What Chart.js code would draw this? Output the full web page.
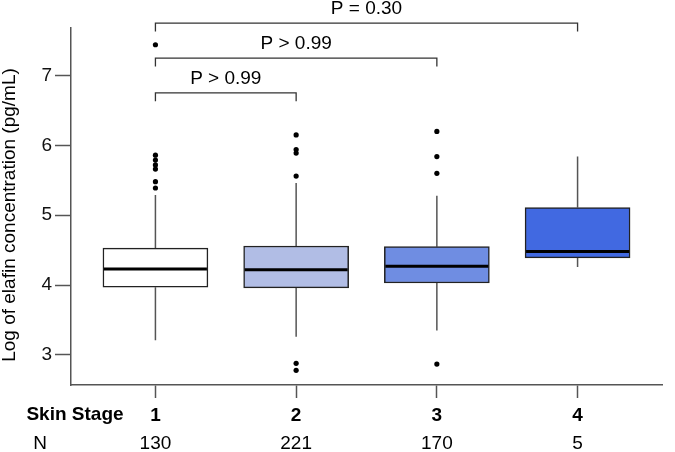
<!DOCTYPE html>
<html>
<head>
<meta charset="utf-8">
<script src="https://cdn.jsdelivr.net/npm/chart.js@4.4.1/dist/chart.umd.min.js"></script>
<style>
  html, body { margin: 0; padding: 0; background: #fff; }
  #wrap { width: 675px; height: 452px; }
</style>
</head>
<body>
<div id="wrap"><canvas id="chart" width="675" height="452"></canvas></div>
<script>
// skin stages and sample sizes
const stages = [1, 2, 3, 4];
const stageCounts = [130, 221, 170, 5];

// box plot summaries (log pg/mL)
const lowerQuartile = [3.97, 3.96, 4.03, 4.39];
const upperQuartile = [4.53, 4.56, 4.55, 5.11];
const medians = [4.23, 4.22, 4.27, 4.48];
const whiskerLow = [3.21, 3.26, 3.35, 4.26];
const whiskerHigh = [5.29, 5.46, 5.28, 5.84];
const outliers = [
  [7.44, 5.86, 5.79, 5.72, 5.66, 5.48, 5.39],
  [6.15, 5.94, 5.89, 5.56, 2.88, 2.78],
  [6.20, 5.84, 5.60, 2.87],
  []
];

const yTicks = [3, 4, 5, 6, 7];

// pairwise comparison brackets
const bracketFrom = [1, 1, 1];
const bracketTo = [4, 3, 2];
const bracketLevel = [7.75, 7.25, 6.75];
const bracketLabels = ['P = 0.30', 'P > 0.99', 'P > 0.99'];

const FONT = '"Liberation Sans", Arial, Helvetica, sans-serif';
const boxFills = ['#FFFFFF', '#B1BDE5', '#6F8DE2', '#4169E1'];

const boxPlotExtras = {
  id: 'boxPlotExtras',
  beforeDatasetsDraw(chart) {
    const { ctx, scales: { x, y } } = chart;
    ctx.save();
    ctx.strokeStyle = '#555';
    ctx.lineWidth = 1.5;
    stages.forEach((s, i) => {
      const px = x.getPixelForValue(s);
      ctx.beginPath();
      ctx.moveTo(px, y.getPixelForValue(upperQuartile[i]));
      ctx.lineTo(px, y.getPixelForValue(whiskerHigh[i]));
      ctx.moveTo(px, y.getPixelForValue(lowerQuartile[i]));
      ctx.lineTo(px, y.getPixelForValue(whiskerLow[i]));
      ctx.stroke();
    });
    ctx.restore();
  },
  afterDatasetsDraw(chart) {
    const { ctx, scales: { x, y } } = chart;
    const half = chart.getDatasetMeta(0).data[0].width / 2;
    ctx.save();
    ctx.strokeStyle = '#000';
    ctx.lineWidth = 3;
    stages.forEach((s, i) => {
      const px = x.getPixelForValue(s);
      const py = y.getPixelForValue(medians[i]);
      ctx.beginPath();
      ctx.moveTo(px - half + 1, py);
      ctx.lineTo(px + half - 1, py);
      ctx.stroke();
    });
    ctx.restore();
  },
  afterDraw(chart) {
    const { ctx, scales: { x, y } } = chart;
    ctx.save();

    // brackets
    ctx.strokeStyle = '#333';
    ctx.lineWidth = 1.3;
    ctx.fillStyle = '#000';
    ctx.font = '19px ' + FONT;
    ctx.textAlign = 'center';
    ctx.textBaseline = 'alphabetic';
    bracketLevel.forEach((lvl, i) => {
      const x1 = x.getPixelForValue(bracketFrom[i]);
      const x2 = x.getPixelForValue(bracketTo[i]);
      const py = y.getPixelForValue(lvl);
      const drop = y.getPixelForValue(lvl - 0.12);
      ctx.beginPath();
      ctx.moveTo(x1, drop);
      ctx.lineTo(x1, py);
      ctx.lineTo(x2, py);
      ctx.lineTo(x2, drop);
      ctx.stroke();
      ctx.fillText(bracketLabels[i], (x1 + x2) / 2, py - 9);
    });

    // y axis title
    ctx.save();
    ctx.translate(15, 215);
    ctx.rotate(-Math.PI / 2);
    ctx.fillText('Log of elafin concentration (pg/mL)', 0, 0);
    ctx.restore();

    // row labels under the axis
    ctx.textBaseline = 'middle';
    ctx.font = 'bold 19px ' + FONT;
    ctx.fillText('Skin Stage', 75, 415);
    ctx.font = '19px ' + FONT;
    ctx.fillText('N', 40, 444);
    stages.forEach((s, i) => {
      ctx.fillText(String(stageCounts[i]), x.getPixelForValue(s), 444);
    });
    ctx.restore();
  }
};

const boxes = stages.map((s, i) => ({ x: s, y: [lowerQuartile[i], upperQuartile[i]] }));
const outlierPoints = outliers.flatMap((vals, i) => vals.map(v => ({ x: stages[i], y: v })));

new Chart(document.getElementById('chart'), {
  type: 'bar',
  data: {
    datasets: [
      {
        type: 'bar',
        data: boxes,
        backgroundColor: boxFills,
        borderColor: '#222',
        borderWidth: 1.5,
        borderSkipped: false,
        barThickness: 105,
        grouped: false,
        order: 2
      },
      {
        type: 'scatter',
        data: outlierPoints,
        pointRadius: 2.6,
        pointBackgroundColor: '#000',
        pointBorderWidth: 0,
        order: 1
      }
    ]
  },
  options: {
    responsive: false,
    animation: false,
    layout: { padding: { top: 28, right: 13, left: 0, bottom: 0 } },
    plugins: { legend: { display: false }, tooltip: { enabled: false } },
    scales: {
      x: {
        type: 'linear',
        min: 0.4,
        max: 4.6,
        offset: false,
        afterBuildTicks: s => { s.ticks = stages.map(v => ({ value: v })); },
        afterFit: s => { s.height = 67; },
        grid: { drawOnChartArea: false, offset: false, tickLength: 13, tickColor: '#555', tickWidth: 1.5 },
        border: { color: '#555', width: 1.5 },
        ticks: {
          color: '#000',
          font: { family: FONT, size: 19, weight: 'bold' },
          padding: 6,
          maxRotation: 0,
          autoSkip: false
        }
      },
      y: {
        min: 2.57,
        max: 7.68,
        afterBuildTicks: s => { s.ticks = yTicks.map(v => ({ value: v })); },
        afterFit: s => { s.width = 71; },
        grid: { drawOnChartArea: false, tickLength: 16, tickColor: '#555', tickWidth: 1.5 },
        border: { color: '#555', width: 1.5 },
        ticks: {
          color: '#111',
          font: { family: FONT, size: 19 },
          padding: 3
        }
      }
    }
  },
  plugins: [boxPlotExtras]
});
</script>
</body>
</html>
